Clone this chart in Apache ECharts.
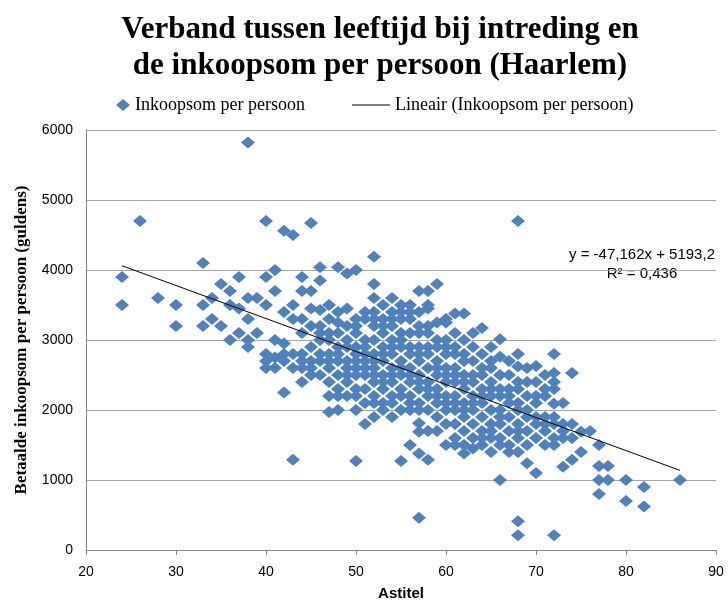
<!DOCTYPE html>
<html>
<head>
<meta charset="utf-8">
<script src="https://cdn.jsdelivr.net/npm/echarts@6/dist/echarts.min.js"></script>
<style>
  html, body { margin: 0; padding: 0; background: #fff; }
  #container { width: 728px; height: 601px; }
</style>
</head>
<body>
<div id="container"></div>
<script>
// leeftijd (astitel) per groep, en de inkoopsommen bij die leeftijd
var ages = [24, 26, 28, 30, 33, 34, 35, 36, 37, 38, 39, 40, 41, 42, 43, 44, 45, 46, 47, 48,
  49, 50, 51, 52, 53, 54, 55, 56, 57, 58, 59, 60, 61, 62, 63, 64, 65, 66, 67, 68,
  69, 70, 71, 72, 73, 74, 75, 76, 77, 78, 80, 82, 86];
var amounts = [
  [3900, 3500],
  [4700],
  [3600],
  [3500, 3200],
  [4100, 3500, 3200],
  [3600, 3300],
  [3800, 3200],
  [3700, 3500, 3000],
  [3900, 3450, 3100],
  [5820, 3600, 3300, 3000, 2900],
  [3600, 3100],
  [4700, 3900, 3500, 2800, 2700, 2600],
  [4000, 3700, 3000, 2750, 2600],
  [4560, 3400, 2950, 2800, 2700, 2250],
  [4500, 3500, 3300, 2800, 2600, 1290],
  [3900, 3700, 3300, 3100, 2800, 2700, 2600, 2400],
  [4670, 3700, 3450, 3200, 2900, 2700, 2600, 2500],
  [4040, 3850, 3430, 3200, 3100, 3000, 2800, 2700, 2500],
  [3500, 3300, 3100, 3000, 2800, 2700, 2600, 2400, 2200, 1970],
  [4040, 3400, 3250, 3100, 2900, 2800, 2700, 2500, 2300, 2200, 2000],
  [3950, 3450, 3200, 3000, 2900, 2700, 2600, 2500, 2400, 2200],
  [4000, 3300, 3200, 3100, 2900, 2800, 2700, 2600, 2500, 2300, 2200, 2000, 1270],
  [3400, 3300, 3000, 2900, 2800, 2700, 2600, 2500, 2300, 2100, 1800],
  [4190, 3800, 3600, 3400, 3300, 3200, 3000, 2800, 2700, 2600, 2500, 2400, 2200, 2100, 1900],
  [3500, 3300, 3200, 3100, 2900, 2800, 2700, 2500, 2400, 2300, 2100, 2000],
  [3600, 3400, 3300, 3200, 3000, 2900, 2800, 2600, 2500, 2400, 2200, 2100, 1900],
  [3500, 3400, 3300, 3100, 3000, 2900, 2700, 2600, 2500, 2300, 2200, 2000, 1270],
  [3500, 3400, 3300, 3100, 2900, 2800, 2600, 2500, 2400, 2200, 2100, 2000, 1500],
  [3700, 3400, 3200, 3100, 2900, 2800, 2700, 2500, 2400, 2300, 2100, 2000, 1810, 1690, 1380, 460],
  [3700, 3500, 3450, 3200, 3100, 2900, 2800, 2600, 2400, 2300, 2200, 2000, 1700, 1290],
  [3800, 3250, 3000, 2900, 2700, 2600, 2500, 2300, 2200, 2100, 1900, 1700],
  [3300, 3250, 3000, 2900, 2800, 2600, 2500, 2400, 2200, 2100, 2000, 1800, 1500],
  [3380, 3100, 2900, 2800, 2600, 2500, 2400, 2200, 2100, 2000, 1800, 1600, 1500],
  [3380, 3000, 2800, 2700, 2500, 2400, 2300, 2100, 2000, 1900, 1700, 1500, 1380],
  [3100, 2900, 2700, 2500, 2400, 2200, 2100, 2000, 1800, 1600, 1450],
  [3170, 2800, 2600, 2500, 2300, 2200, 2100, 1900, 1700, 1600, 1500],
  [2900, 2700, 2600, 2400, 2300, 2200, 2000, 1800, 1700, 1600, 1400],
  [3010, 2760, 2500, 2300, 2200, 2000, 1900, 1800, 1600, 1500, 1000],
  [2700, 2500, 2300, 2200, 2100, 1900, 1700, 1500, 1400],
  [4700, 2800, 2620, 2400, 2300, 2100, 2000, 1800, 1700, 1600, 1400, 410, 210],
  [2600, 2400, 2200, 2000, 1900, 1700, 1500, 1240],
  [2630, 2400, 2200, 2100, 1900, 1800, 1600, 1100],
  [2500, 2300, 2200, 1900, 1800, 1700, 1500],
  [2800, 2530, 2400, 2300, 2090, 1900, 1800, 1600, 1500, 210],
  [2100, 1800, 1700, 1600, 1190],
  [2530, 1800, 1600, 1290],
  [1690, 1400],
  [1700],
  [1500, 1200, 1000, 800],
  [1200, 1000],
  [1000, 700],
  [900, 620],
  [1000]
];

// trendlijn zoals Excel hem gaf
var trendSlope = -47.162;
var trendIntercept = 5193.2;
var trendRange = [24, 86];

var xTicks = [20, 90, 10];     // min, max, interval
var yTicks = [0, 6000, 1000];

var points = [];
ages.forEach(function (age, i) {
  amounts[i].forEach(function (v) { points.push([age, v]); });
});
var trendData = trendRange.map(function (x) { return [x, trendSlope * x + trendIntercept]; });

var dom = document.getElementById("container");
var myChart = echarts.init(dom);
var option;

option = {
  animation: false,
  backgroundColor: '#fff',
  title: {
    text: 'Verband tussen leeftijd bij intreding en\nde inkoopsom per persoon (Haarlem)',
    left: 375,
    textAlign: 'center',
    top: 7,
    textStyle: {
      fontFamily: 'Liberation Serif',
      fontWeight: 'bold',
      fontSize: 31,
      lineHeight: 36,
      color: '#000'
    }
  },
  legend: [{
    left: 111,
    top: 91,
    itemWidth: 14,
    itemHeight: 12,
    itemGap: 8,
    data: ['Inkoopsom per persoon'],
    textStyle: { fontFamily: 'Liberation Serif', fontSize: 18, color: '#000' }
  }, {
    left: 347,
    top: 91,
    itemWidth: 38,
    itemHeight: 12,
    data: [{ name: 'Lineair (Inkoopsom per persoon)', icon: 'path://M0,0L40,0L40,1L0,1Z' }],
    textStyle: { fontFamily: 'Liberation Serif', fontSize: 18, color: '#000' }
  }],
  grid: {
    left: 86,
    right: 12,
    top: 130,
    bottom: 51,
    outerBoundsMode: 'none'
  },
  xAxis: {
    type: 'value',
    min: xTicks[0],
    max: xTicks[1],
    interval: xTicks[2],
    name: 'Astitel',
    nameLocation: 'middle',
    nameGap: 36,
    nameTextStyle: { fontFamily: 'Liberation Sans', fontWeight: 'bold', fontSize: 15, color: '#000' },
    axisLine: { lineStyle: { color: '#868686' } },
    axisTick: { show: true, length: 5, lineStyle: { color: '#868686' } },
    axisLabel: { fontFamily: 'Liberation Sans', fontSize: 14, color: '#000', margin: 15 },
    splitLine: { show: false }
  },
  yAxis: {
    type: 'value',
    min: yTicks[0],
    max: yTicks[1],
    interval: yTicks[2],
    name: 'Betaalde inkoopsom per persoon (guldens)',
    nameLocation: 'middle',
    nameGap: 56,
    nameTextStyle: { fontFamily: 'Liberation Serif', fontWeight: 'bold', fontSize: 17, color: '#000' },
    axisLine: { show: true, lineStyle: { color: '#868686' } },
    axisTick: { show: false },
    axisLabel: {
      fontFamily: 'Liberation Sans', fontSize: 14, color: '#000', margin: 13,
      formatter: function (v) { return String(v); }
    },
    splitLine: { lineStyle: { color: '#a6a6a6', width: 1 } }
  },
  graphic: [{
    type: 'text',
    x: 642,
    y: 245,
    style: {
      text: 'y = -47,162x + 5193,2\nR\u00b2 = 0,436',
      fontFamily: 'Liberation Sans',
      fontSize: 15,
      lineHeight: 19,
      align: 'center',
      verticalAlign: 'top',
      fill: '#000'
    }
  }],
  series: [{
    name: 'Inkoopsom per persoon',
    type: 'scatter',
    symbol: 'diamond',
    symbolSize: [14, 12],
    itemStyle: { color: '#4f81bd', opacity: 1 },
    data: points
  }, {
    name: 'Lineair (Inkoopsom per persoon)',
    type: 'line',
    symbol: 'none',
    lineStyle: { color: '#000', width: 1 },
    itemStyle: { color: '#000' },
    z: 5,
    data: trendData
  }]
};

if (option && typeof option === 'object') {
  myChart.setOption(option);
}
</script>
</body>
</html>
